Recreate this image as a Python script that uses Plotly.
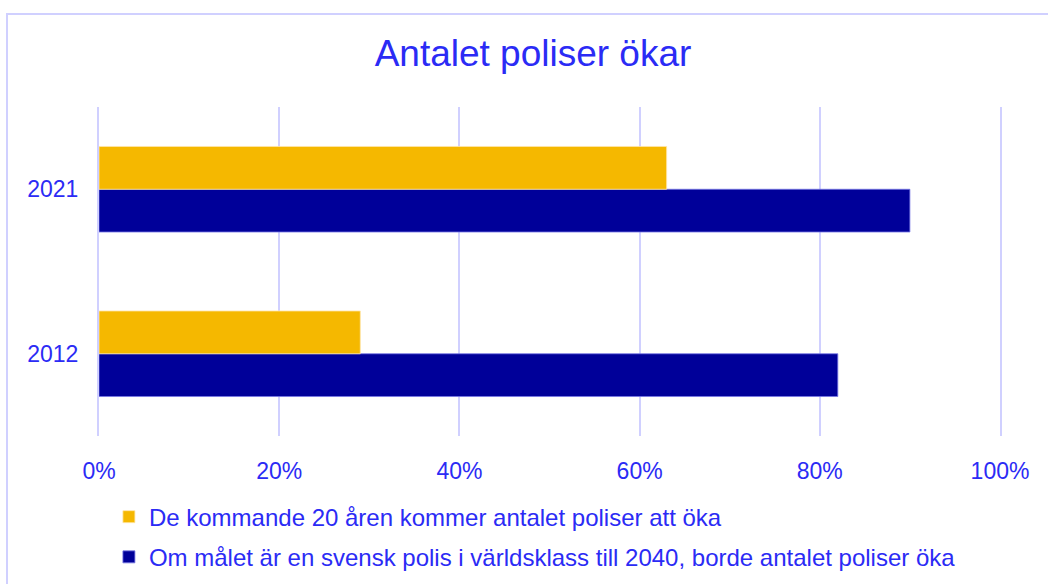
import plotly.graph_objects as go

years = ["2012", "2021"]
gold_name = "De kommande 20 åren kommer antalet poliser att öka"
navy_name = "Om målet är en svensk polis i världsklass till 2040, borde antalet poliser öka"
gold_values = [0.29, 0.63]
navy_values = [0.82, 0.90]
x_ticks = [0, 0.2, 0.4, 0.6, 0.8, 1.0]
x_ticklabels = ["0%", "20%", "40%", "60%", "80%", "100%"]

TXT = "#2b2bf5"
GRID = "#d0d0ff"
FONT = "Liberation Sans, Arial, Helvetica, sans-serif"

fig = go.Figure()
fig.add_trace(go.Bar(
    y=years, x=navy_values, name=navy_name, orientation="h",
    marker=dict(color="#000099", line=dict(color="rgba(120,120,230,0.8)", width=1)),
    legendrank=2, legendgroup="b",
))
fig.add_trace(go.Bar(
    y=years, x=gold_values, name=gold_name, orientation="h",
    marker=dict(color="#F5B800", line=dict(color="rgba(255,230,170,0.8)", width=1)),
    legendrank=1, legendgroup="a",
))

fig.update_layout(
    width=1048, height=584,
    margin=dict(l=99, r=48, t=107, b=148, autoexpand=False),
    paper_bgcolor="white", plot_bgcolor="white",
    font=dict(family=FONT, color=TXT, size=23),
    barmode="group", bargap=0.48, bargroupgap=0,
    title=dict(text="Antalet poliser ökar", x=533/1048, xref="container", xanchor="center",
               y=1 - 53/584, yref="container", yanchor="middle",
               font=dict(size=37, color=TXT, family=FONT)),
    showlegend=True,
    legend=dict(x=0.011, xanchor="left", y=-0.178, yanchor="top", orientation="v",
                traceorder="grouped", tracegroupgap=6,
                font=dict(size=24, color=TXT, family=FONT), bgcolor="rgba(0,0,0,0)"),
    shapes=[dict(type="rect", xref="paper", yref="paper",
                 x0=(7 - 99) / 901, x1=(1060 - 99) / 901,
                 y0=(436 - 600) / 329, y1=(436 - 14) / 329,
                 line=dict(color="#d0d0ff", width=2), fillcolor="rgba(0,0,0,0)", layer="below")],
)
fig.update_xaxes(range=[0, 1.0], tickvals=x_ticks, ticktext=x_ticklabels,
                 showgrid=True, gridcolor=GRID, gridwidth=2, zeroline=False,
                 showline=False, ticks="", ticklabelstandoff=19,
                 tickfont=dict(size=23, color=TXT))
fig.update_yaxes(showgrid=False, zeroline=False, showline=True, mirror=True,
                 linecolor=GRID, linewidth=2, ticks="",
                 ticklabelstandoff=14, tickfont=dict(size=23, color=TXT))

fig.write_html("out.html", config={"displayModeBar": False},
               post_script="document.body.style.margin='0';")
